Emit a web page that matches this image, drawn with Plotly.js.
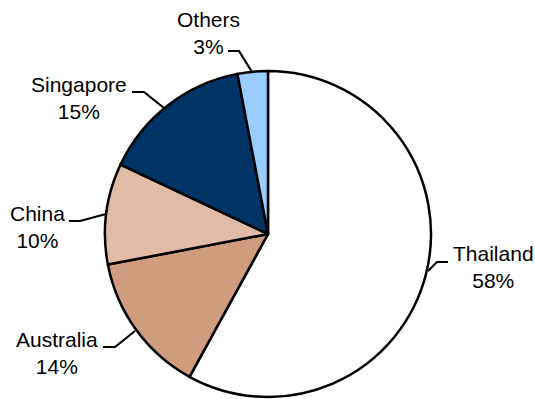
<!DOCTYPE html>
<html>
<head>
<meta charset="utf-8">
<script src="https://cdn.plot.ly/plotly-3.0.1.min.js"></script>
<style>html,body{margin:0;padding:0;background:#fff;}#chart{width:535px;height:399px;}</style>
</head>
<body>
<div id="chart"></div>
<script>
// Data
const categories = ["Thailand", "Australia", "China", "Singapore", "Others"];
const shares = [58, 14, 10, 15, 3];
const sliceColors = ["#FFFFFF", "#CF9C7E", "#E0BBA5", "#003366", "#99CCFF"];

// Layout helpers (pixel -> paper)
const W = 535, H = 399;
const px = x => x / W;
const py = y => 1 - y / H;

// Label anchor positions (px) and leader line paths (px)
const labelPos = [
  [493, 267], [57, 353], [37, 227], [79, 98], [208, 33]
];
const leaders = [
  [[448, 262], [437, 262], [428, 271]],
  [[103, 347], [115, 347], [135, 331]],
  [[69, 221], [80, 221], [106, 214]],
  [[132, 92], [144, 92], [164, 108]],
  [[228, 51], [239, 51], [252, 72]]
];

const annotations = categories.map((c, i) => ({
  xref: "paper", yref: "paper",
  x: px(labelPos[i][0]), y: py(labelPos[i][1]),
  xanchor: "center", yanchor: "middle",
  text: c + "<br>" + shares[i] + "%",
  showarrow: false,
  font: {family: "Liberation Sans, Arial, sans-serif", size: 21, color: "#000"}
}));

const shapes = leaders.map(pts => ({
  type: "path", xref: "paper", yref: "paper",
  path: pts.map((p, j) => (j === 0 ? "M" : "L") + px(p[0]) + "," + py(p[1])).join(" "),
  line: {color: "#000", width: 2.2}
}));

const trace = {
  type: "pie",
  labels: categories,
  values: shares,
  sort: false,
  direction: "clockwise",
  rotation: 0,
  textinfo: "none",
  hoverinfo: "label+percent",
  marker: {colors: sliceColors, line: {color: "#000", width: 2.5}},
  domain: {x: [px(105), px(431)], y: [py(397), py(71)]},
  showlegend: false
};

Plotly.newPlot("chart", [trace], {
  width: W, height: H,
  margin: {l: 0, r: 0, t: 0, b: 0},
  paper_bgcolor: "#fff",
  showlegend: false,
  annotations: annotations,
  shapes: shapes
}, {displayModeBar: false, staticPlot: true});
</script>
</body>
</html>
